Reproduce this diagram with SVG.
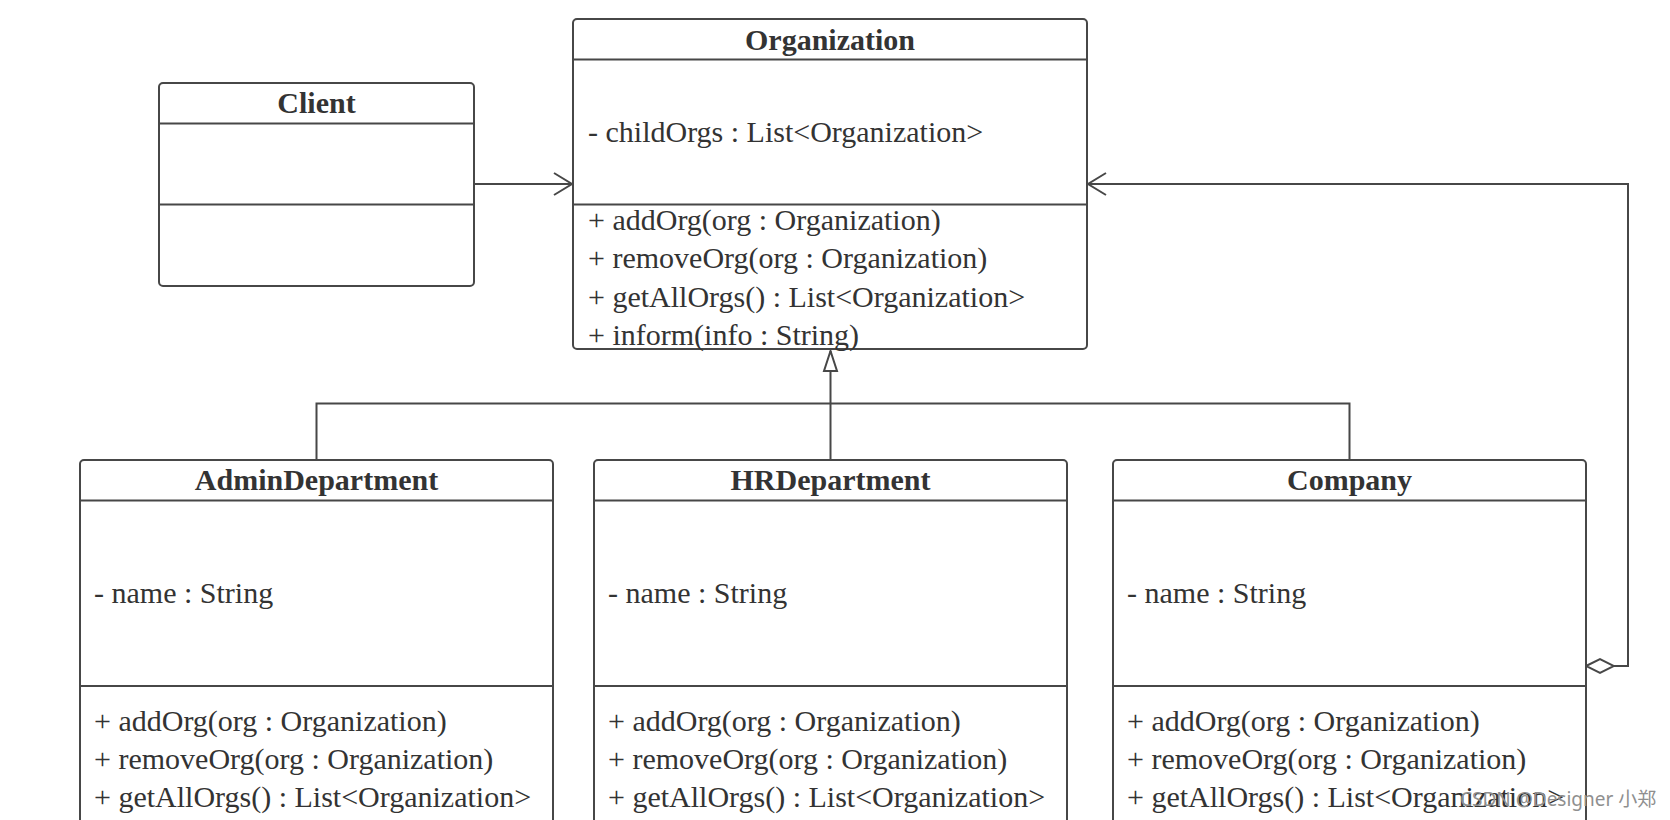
<svg xmlns="http://www.w3.org/2000/svg" width="1670" height="820" viewBox="0 0 1670 820">
  <style>
    .box { fill: #ffffff; stroke: #474747; stroke-width: 2; }
    .div { stroke: #474747; stroke-width: 2; }
    .conn { fill: none; stroke: #474747; stroke-width: 2; }
    .t { font-family: "Liberation Serif", "Times New Roman", serif; font-size: 30px; fill: #333333; }
    .title { font-family: "Liberation Serif", "Times New Roman", serif; font-size: 30px; font-weight: bold; fill: #333333; text-anchor: middle; }
    .wm { font-family: "Noto Sans", "Noto Sans CJK SC", sans-serif; font-size: 19px; fill: #8f8f8f; }
  </style>
  <defs>
    <marker id="open" viewBox="-22 -14 26 28" markerWidth="26" markerHeight="28" refX="0" refY="0" orient="auto" markerUnits="userSpaceOnUse">
      <path d="M-18,-11 L0,0 L-18,11" fill="none" stroke="#474747" stroke-width="2"/>
    </marker>
    <marker id="tri" viewBox="-24 -10 28 20" markerWidth="28" markerHeight="20" refX="0" refY="0" orient="auto" markerUnits="userSpaceOnUse">
      <path d="M0,0 L-20,-6.5 L-20,6.5 Z" fill="#ffffff" stroke="#474747" stroke-width="2"/>
    </marker>
    <marker id="dia" viewBox="-2 -9 32 18" markerWidth="32" markerHeight="18" refX="0" refY="0" orient="auto" markerUnits="userSpaceOnUse">
      <path d="M0,0 L14,-7 L28,0 L14,7 Z" fill="#ffffff" stroke="#474747" stroke-width="2"/>
    </marker>
  </defs>
  <rect x="0" y="0" width="1670" height="820" fill="#ffffff"/>

  <g id="connectors">
    <path class="conn" d="M474,184 H572" marker-end="url(#open)"/>
    <path class="conn" d="M316.5,460 V403.5 H1349.5 V460"/>
    <path class="conn" d="M830.5,460 V351" marker-end="url(#tri)"/>
    <path class="conn" d="M1586,666 H1628 V184 H1088" marker-start="url(#dia)" marker-end="url(#open)"/>
  </g>

  <g id="client">
    <rect class="box" x="159" y="83" width="315" height="203" rx="4"/>
    <line class="div" x1="159" y1="123.5" x2="474" y2="123.5"/>
    <line class="div" x1="159" y1="204.5" x2="474" y2="204.5"/>
    <text class="title" x="316.5" y="113">Client</text>
  </g>

  <g id="organization">
    <rect class="box" x="573" y="19" width="514" height="330" rx="4"/>
    <line class="div" x1="573" y1="59.5" x2="1087" y2="59.5"/>
    <line class="div" x1="573" y1="204.5" x2="1087" y2="204.5"/>
    <text class="title" x="830" y="50">Organization</text>
    <text class="t" x="588" y="142">- childOrgs : List&lt;Organization&gt;</text>
    <text class="t" x="588" y="230">+ addOrg(org : Organization)</text>
    <text class="t" x="588" y="268">+ removeOrg(org : Organization)</text>
    <text class="t" x="588" y="306.5">+ getAllOrgs() : List&lt;Organization&gt;</text>
    <text class="t" x="588" y="345">+ inform(info : String)</text>
  </g>

  <g id="admin-department">
    <rect class="box" x="80" y="460" width="473" height="420" rx="4"/>
    <line class="div" x1="80" y1="500.5" x2="553" y2="500.5"/>
    <line class="div" x1="80" y1="686" x2="553" y2="686"/>
    <text class="title" x="316.5" y="490">AdminDepartment</text>
    <text class="t" x="94" y="603">- name : String</text>
    <text class="t" x="94" y="731">+ addOrg(org : Organization)</text>
    <text class="t" x="94" y="769">+ removeOrg(org : Organization)</text>
    <text class="t" x="94" y="807">+ getAllOrgs() : List&lt;Organization&gt;</text>
  </g>

  <g id="hr-department">
    <rect class="box" x="594" y="460" width="473" height="420" rx="4"/>
    <line class="div" x1="594" y1="500.5" x2="1067" y2="500.5"/>
    <line class="div" x1="594" y1="686" x2="1067" y2="686"/>
    <text class="title" x="830.5" y="490">HRDepartment</text>
    <text class="t" x="608" y="603">- name : String</text>
    <text class="t" x="608" y="731">+ addOrg(org : Organization)</text>
    <text class="t" x="608" y="769">+ removeOrg(org : Organization)</text>
    <text class="t" x="608" y="807">+ getAllOrgs() : List&lt;Organization&gt;</text>
  </g>

  <g id="company">
    <rect class="box" x="1113" y="460" width="473" height="420" rx="4"/>
    <line class="div" x1="1113" y1="500.5" x2="1586" y2="500.5"/>
    <line class="div" x1="1113" y1="686" x2="1586" y2="686"/>
    <text class="title" x="1349.5" y="490">Company</text>
    <text class="t" x="1127" y="603">- name : String</text>
    <text class="t" x="1127" y="731">+ addOrg(org : Organization)</text>
    <text class="t" x="1127" y="769">+ removeOrg(org : Organization)</text>
    <text class="t" x="1127" y="807">+ getAllOrgs() : List&lt;Organization&gt;</text>
  </g>

  <text class="wm" x="1460" y="806">CSDN @Designer 小郑</text>
</svg>
